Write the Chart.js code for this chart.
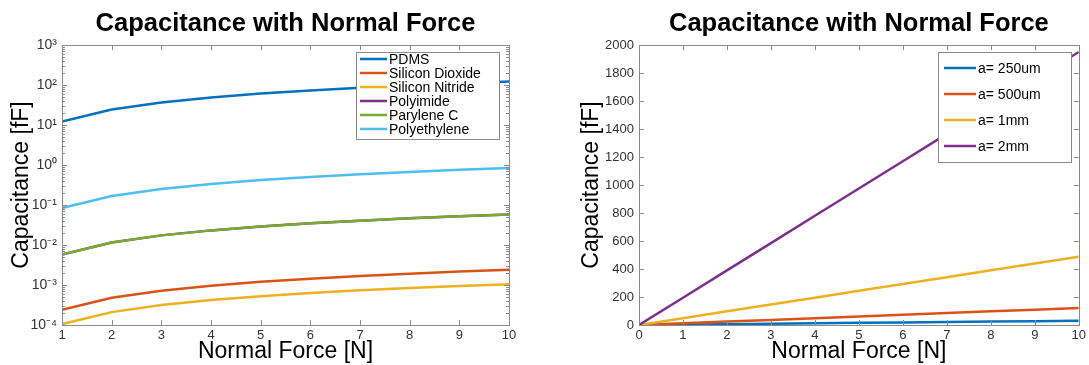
<!DOCTYPE html>
<html>
<head>
<meta charset="utf-8">
<script src="https://cdn.jsdelivr.net/npm/chart.js@4.4.0/dist/chart.umd.min.js"></script>
<style>
  html, body { margin: 0; padding: 0; background: #fff; }
  #left { position: absolute; left: 0; top: 0; }
  #right { position: absolute; left: 545px; top: 0; }
</style>
</head>
<body>
<canvas id="left" width="545" height="365"></canvas>
<canvas id="right" width="544" height="365"></canvas>
<script>
// left chart: dielectric materials, log scale
const forceN = [1, 2, 3, 4, 5, 6, 7, 8, 9, 10];
const materials = ['PDMS', 'Silicon Dioxide', 'Silicon Nitride', 'Polyimide', 'Parylene C', 'Polyethylene'];
const pdms = [12.2, 24.4, 36.6, 48.8, 61.0, 73.2, 85.4, 97.6, 109.8, 122];
const siliconDioxide = [0.00024, 0.00048, 0.00072, 0.00096, 0.0012, 0.00144, 0.00168, 0.00192, 0.00216, 0.0024];
const siliconNitride = [0.000105, 0.00021, 0.000315, 0.00042, 0.000525, 0.00063, 0.000735, 0.00084, 0.000945, 0.00105];
const polyimide = [0.0058, 0.0116, 0.0174, 0.0232, 0.029, 0.0348, 0.0406, 0.0464, 0.0522, 0.058];
const paryleneC = [0.0058, 0.0116, 0.0174, 0.0232, 0.029, 0.0348, 0.0406, 0.0464, 0.0522, 0.058];
const polyethylene = [0.084, 0.168, 0.252, 0.336, 0.42, 0.504, 0.588, 0.672, 0.756, 0.84];

// right chart: electrode size, linear scale
const forceAll = [0, 1, 2, 3, 4, 5, 6, 7, 8, 9, 10];
const sizes = ['a= 250um', 'a= 500um', 'a= 1mm', 'a= 2mm'];
const a250um = [0, 3.05, 6.1, 9.15, 12.2, 15.25, 18.3, 21.35, 24.4, 27.45, 30.5];
const a500um = [0, 12.2, 24.4, 36.6, 48.8, 61, 73.2, 85.4, 97.6, 109.8, 122];
const a1mm = [0, 48.8, 97.6, 146.4, 195.2, 244, 292.8, 341.6, 390.4, 439.2, 488];
const a2mm = [0, 195, 390, 585, 780, 975, 1170, 1365, 1560, 1755, 1950];

const colors = ['#0072BD', '#D95319', '#EDB120', '#7E2F8E', '#77AC30', '#4DBEEE'];
const FONT = '"Liberation Sans", Arial, Helvetica, sans-serif';

const sup = {'-': '\u207B', '0': '\u2070', '1': '\u00B9', '2': '\u00B2', '3': '\u00B3', '4': '\u2074',
             '5': '\u2075', '6': '\u2076', '7': '\u2077', '8': '\u2078', '9': '\u2079'};

function isPow10(v) {
    let e = Math.log10(v);
    return Math.abs(e - Math.round(e)) < 1e-6;
}

// matlab-like box with inward ticks
const matlabBox = {
    id: 'matlabBox',
    afterDatasetsDraw(chart) {
        const ctx = chart.ctx;
        const a = chart.chartArea;
        const x = chart.scales.x, y = chart.scales.y;
        ctx.save();
        ctx.strokeStyle = '#8a8a8a';
        ctx.lineWidth = 1;
        const seg = (x1, y1, x2, y2) => { ctx.beginPath(); ctx.moveTo(x1, y1); ctx.lineTo(x2, y2); ctx.stroke(); };
        ctx.strokeRect(Math.round(a.left) + 0.5, Math.round(a.top) + 0.5, Math.round(a.width), Math.round(a.height));
        x.ticks.forEach(t => {
            let px = Math.round(x.getPixelForValue(t.value)) + 0.5;
            seg(px, a.bottom, px, a.bottom - 5);
            seg(px, a.top, px, a.top + 5);
        });
        if (y.type === 'logarithmic') {
            let lo = Math.round(Math.log10(y.min)), hi = Math.round(Math.log10(y.max));
            for (let e = lo; e <= hi; e++) {
                for (let m = 1; m <= 9; m++) {
                    let v = m * Math.pow(10, e);
                    if (v > y.max * 1.0001) break;
                    let py = Math.round(y.getPixelForValue(v)) + 0.5;
                    let len = m === 1 ? 5 : 3;
                    seg(a.left, py, a.left + len, py);
                    seg(a.right, py, a.right - len, py);
                }
            }
        } else {
            y.ticks.forEach(t => {
                let py = Math.round(y.getPixelForValue(t.value)) + 0.5;
                seg(a.left, py, a.left + 5, py);
                seg(a.right, py, a.right - 5, py);
            });
        }
        ctx.restore();
    }
};

// legend inside plot area
const boxLegend = {
    id: 'boxLegend',
    afterDraw(chart, args, opts) {
        const ctx = chart.ctx;
        ctx.save();
        ctx.fillStyle = '#fff';
        ctx.fillRect(opts.left, opts.top, opts.width, opts.height);
        ctx.strokeStyle = '#8a8a8a';
        ctx.lineWidth = 1;
        ctx.strokeRect(opts.left + 0.5, opts.top + 0.5, opts.width, opts.height);
        ctx.font = '14px ' + FONT;
        ctx.textBaseline = 'middle';
        ctx.textAlign = 'left';
        chart.data.datasets.forEach((ds, i) => {
            let ry = opts.firstRow + i * opts.rowStep;
            ctx.strokeStyle = ds.borderColor;
            ctx.lineWidth = 2.5;
            ctx.beginPath();
            ctx.moveTo(opts.lineX1, ry);
            ctx.lineTo(opts.lineX2, ry);
            ctx.stroke();
            ctx.fillStyle = '#000';
            ctx.fillText(ds.label, opts.textX, ry + 1);
        });
        ctx.restore();
    }
};

// later series drawn on top, like matlab
function makeDataset(label, data, color, i) {
    return { label: label, data: data, borderColor: color, backgroundColor: color,
             borderWidth: 2.5, pointRadius: 0, tension: 0, order: 10 - i };
}

const tickFont = { family: FONT, size: 13 };
const axisTitleFont = { family: FONT, size: 23 };
const titleOpts = {
    display: true, text: 'Capacitance with Normal Force', color: '#000', fullSize: false,
    font: { family: FONT, size: 25.5, weight: 'bold' }, padding: { top: 8.5, bottom: 5.9 }
};

// left chart
const matSeries = [pdms, siliconDioxide, siliconNitride, polyimide, paryleneC, polyethylene];
new Chart(document.getElementById('left').getContext('2d'), {
    type: 'line',
    data: {
        datasets: materials.map((name, i) => makeDataset(name,
            forceN.map((f, j) => ({ x: f, y: matSeries[i][j] })), colors[i], i))
    },
    options: {
        responsive: false, animation: false, devicePixelRatio: 1,
        layout: { padding: { left: 0, right: 36, top: 0, bottom: 0 } },
        scales: {
            x: {
                type: 'linear', min: 1, max: 10,
                grid: { display: false, drawTicks: false }, border: { display: false },
                ticks: { stepSize: 1, color: '#333', font: tickFont, padding: 3, maxRotation: 0 },
                title: { display: true, text: 'Normal Force [N]', color: '#000', font: axisTitleFont, padding: 0 },
                afterFit: s => { s.height = 40; }
            },
            y: {
                type: 'logarithmic', min: 1e-4, max: 1e3,
                grid: { display: false, drawTicks: false }, border: { display: false },
                ticks: {
                    autoSkip: false, color: '#333', font: { family: FONT, size: 14 }, padding: 5,
                    callback: v => isPow10(v) ? '10' + String(Math.round(Math.log10(v))).split('').map(c => sup[c]).join('') : ''
                },
                title: { display: true, text: 'Capacitance [fF]', color: '#000', font: axisTitleFont, padding: { top: 8, bottom: 0 } },
                afterFit: s => { s.width = 62; }
            }
        },
        plugins: {
            legend: { display: false },
            tooltip: { enabled: false },
            title: titleOpts,
            boxLegend: { left: 356, top: 52, width: 143, height: 87, firstRow: 59, rowStep: 14,
                         lineX1: 360, lineX2: 387, textX: 389 }
        }
    },
    plugins: [matlabBox, boxLegend]
});

// right chart
const sizeSeries = [a250um, a500um, a1mm, a2mm];
new Chart(document.getElementById('right').getContext('2d'), {
    type: 'line',
    data: {
        datasets: sizes.map((name, i) => makeDataset(name,
            forceAll.map((f, j) => ({ x: f, y: sizeSeries[i][j] })), colors[i], i))
    },
    options: {
        responsive: false, animation: false, devicePixelRatio: 1,
        layout: { padding: { left: 25, right: 4, top: 0, bottom: 0 } },
        scales: {
            x: {
                type: 'linear', min: 0, max: 10,
                grid: { display: false, drawTicks: false }, border: { display: false },
                ticks: { stepSize: 1, color: '#333', font: tickFont, padding: 3, maxRotation: 0 },
                title: { display: true, text: 'Normal Force [N]', color: '#000', font: axisTitleFont, padding: 0 },
                afterFit: s => { s.height = 40; }
            },
            y: {
                type: 'linear', min: 0, max: 2000,
                grid: { display: false, drawTicks: false }, border: { display: false },
                ticks: { stepSize: 200, color: '#333', font: tickFont, padding: 5, callback: v => String(v) },
                title: { display: true, text: 'Capacitance [fF]', color: '#000', font: axisTitleFont, padding: { top: 8, bottom: 0 } },
                afterFit: s => { s.width = 69; }
            }
        },
        plugins: {
            legend: { display: false },
            tooltip: { enabled: false },
            title: titleOpts,
            boxLegend: { left: 393, top: 52, width: 133, height: 110, firstRow: 68, rowStep: 26,
                         lineX1: 399, lineX2: 431, textX: 433 }
        }
    },
    plugins: [matlabBox, boxLegend]
});
</script>
</body>
</html>
